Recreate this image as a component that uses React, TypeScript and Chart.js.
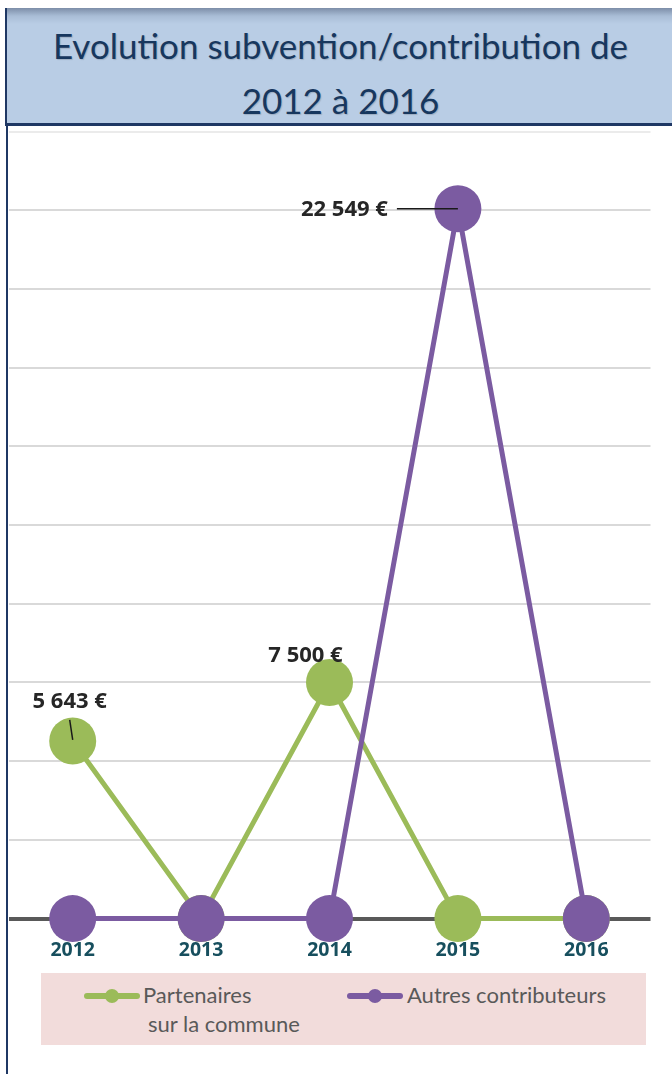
import React, { useEffect, useRef } from "react";
import { Chart, registerables } from "chart.js";

Chart.register(...registerables);

const years = ["2012", "2013", "2014", "2015", "2016"];
const partenaires = [5643, 0, 7500, 0, 0];
const autres = [0, 0, 0, 22549, 0];
const yMax = 25000;
const yStep = 2500;

const GREEN = "#9BBB59";
const PURPLE = "#7B5BA1";
const FONT = "Lato, 'Open Sans', sans-serif";
const BOLD_FONT = "'Open Sans', 'Noto Sans', sans-serif";

const fmt = (v: number) => v.toLocaleString("en-US").replace(/,/g, " ") + " €";

// label placement relative to the point (style only)
const labelStyle: Record<string, { dx: number; dy: number; align: CanvasTextAlign; leader?: number[] }> = {
  "0-0": { dx: -3, dy: -39, align: "center", leader: [-3, -21, 0, -1] },
  "0-2": { dx: -24, dy: -27, align: "center" },
  "1-3": { dx: -70, dy: 1, align: "right", leader: [-61, 0, 0, 0] },
};

const labelPlugin = {
  id: "valueLabels",
  afterDatasetsDraw(chart: any) {
    const ctx = chart.ctx;
    ctx.save();
    chart.data.datasets.forEach((ds: any, di: number) => {
      const meta = chart.getDatasetMeta(di);
      ds.data.forEach((v: number, i: number) => {
        if (!v) return;
        const st = labelStyle[`${ds.sid}-${i}`];
        if (!st) return;
        const p = meta.data[i];
        if (st.leader) {
          ctx.strokeStyle = "#1a1a1a";
          ctx.lineWidth = 1.5;
          ctx.beginPath();
          ctx.moveTo(p.x + st.leader[0], p.y + st.leader[1]);
          ctx.lineTo(p.x + st.leader[2], p.y + st.leader[3]);
          ctx.stroke();
        }
        ctx.fillStyle = "#262626";
        ctx.font = `bold 22px ${BOLD_FONT}`;
        ctx.textAlign = st.align;
        ctx.textBaseline = "middle";
        ctx.fillText(fmt(v), p.x + st.dx, p.y + st.dy);
      });
    });
    ctx.restore();
  },
};

export default function App() {
  const ref = useRef<HTMLCanvasElement>(null);
  useEffect(() => {
    if (!ref.current) return;
    const chart = new Chart(ref.current, {
      type: "line",
      data: {
        labels: years,
        datasets: [
          {
            sid: 1,
            label: "Autres contributeurs",
            data: autres,
            borderColor: PURPLE,
            backgroundColor: PURPLE,
            pointBackgroundColor: PURPLE,
            pointBorderWidth: 0,
            borderWidth: 5,
            pointRadius: 23.5,
            pointHoverRadius: 23.5,
            clip: false,
            order: 1,
          } as any,
          {
            sid: 0,
            label: "Partenaires sur la commune",
            data: partenaires,
            borderColor: GREEN,
            backgroundColor: GREEN,
            pointBackgroundColor: GREEN,
            pointBorderWidth: 0,
            borderWidth: 5,
            pointRadius: 23.5,
            pointHoverRadius: 23.5,
            clip: false,
            order: 2,
          } as any,
        ],
      },
      options: {
        animation: false,
        responsive: false,
        maintainAspectRatio: false,
        layout: { padding: 0 },
        plugins: { legend: { display: false }, tooltip: { enabled: false } },
        scales: {
          x: {
            offset: true,
            grid: { display: false, drawTicks: false },
            border: { display: false },
            ticks: {
              padding: 20,
              color: "#174F5E",
              font: { family: BOLD_FONT, size: 19.5, weight: "bold" },
            },
          },
          y: {
            min: 0,
            max: yMax,
            afterFit: (s: any) => {
              s.width = 0;
            },
            ticks: { display: false, stepSize: yStep },
            border: { display: false },
            grid: {
              drawTicks: false,
              color: (c: any) => (c.tick && c.tick.value === 0 ? "#595959" : c.tick && c.tick.value === yMax ? "#EBEBEB" : "#D9D9D9"),
              lineWidth: (c: any) => (c.tick && c.tick.value === 0 ? 4 : 2),
            },
          },
        },
      },
      plugins: [labelPlugin],
    } as any);
    return () => chart.destroy();
  }, []);

  return (
    <div style={{ position: "absolute", left: 0, top: 0, width: 672, height: 1074, background: "#fff", overflow: "hidden", fontFamily: FONT }}>
      <div
        style={{
          position: "absolute",
          left: 5,
          top: 8,
          width: 667,
          height: 115,
          borderLeft: "2px solid #1F3864",
          borderBottom: "3px solid #1F3864",
          background: "linear-gradient(to bottom, #7D8EA8 0px, #A9BDD6 8px, #B9CDE5 16px, #B9CDE5 100%)",
          color: "#17375E",
          fontSize: 35,
          textAlign: "center",
          boxSizing: "content-box",
          textShadow: "1px 1px 1px rgba(0,0,0,0.15)",
        }}
      >
        <div style={{ position: "absolute", left: 0, right: 0, top: 17, lineHeight: "40px" }}>Evolution subvention/contribution de</div>
        <div style={{ position: "absolute", left: 0, right: 0, top: 72, lineHeight: "40px" }}>2012 à 2016</div>
      </div>
      <div style={{ position: "absolute", left: 6, top: 126, width: 2, height: 948, background: "#1F3864" }} />
      <canvas ref={ref} width={689} height={874} style={{ position: "absolute", left: -15, top: 108, width: 689, height: 874 }} />
      <div style={{ position: "absolute", left: 41, top: 973, width: 605, height: 72, background: "#F2DCDB", color: "#595959", fontSize: 22 }}>
        <div style={{ position: "absolute", left: 43, top: 20, width: 56, height: 6, background: GREEN, borderRadius: 3 }} />
        <div style={{ position: "absolute", left: 64, top: 16, width: 14, height: 14, background: GREEN, borderRadius: 7 }} />
        <div style={{ position: "absolute", left: 102, top: 9, lineHeight: "26px" }}>Partenaires</div>
        <div style={{ position: "absolute", left: 107, top: 38, lineHeight: "26px" }}>sur la commune</div>
        <div style={{ position: "absolute", left: 306, top: 20, width: 56, height: 6, background: PURPLE, borderRadius: 3 }} />
        <div style={{ position: "absolute", left: 327, top: 16, width: 14, height: 14, background: PURPLE, borderRadius: 7 }} />
        <div style={{ position: "absolute", left: 366, top: 9, lineHeight: "26px" }}>Autres contributeurs</div>
      </div>
    </div>
  );
}
